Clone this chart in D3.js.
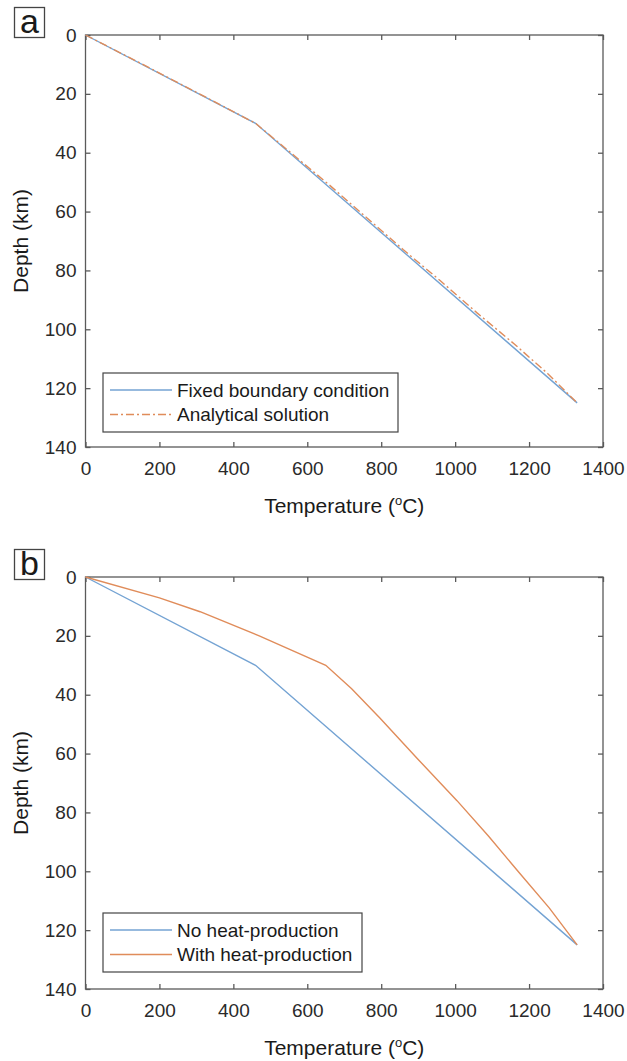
<!DOCTYPE html>
<html>
<head>
    <title>Geotherms</title>
    <script src="https://cdn.jsdelivr.net/npm/d3@7"></script>
    <style>
        body { margin: 0; background: #fff; }
        text { font-family: "Liberation Sans", Arial, sans-serif; }
    </style>
</head>
<body>
    <script>
// tick values
const tempTicks = [0, 200, 400, 600, 800, 1000, 1200, 1400];
const depthTicks = [0, 20, 40, 60, 80, 100, 120, 140];

// panel a: temperature (C) and depth (km)
const aFixedT = [0, 460, 1330];
const aFixedZ = [0, 30, 125];
const aAnalyticT = [0, 155, 308, 460, 560, 660, 760, 860, 960, 1060, 1160, 1250, 1330];
const aAnalyticZ = [0, 10, 20, 30, 40.5, 51, 62, 73, 83.5, 94.5, 105, 115, 125];

// panel b
const bNoHeatT = [0, 460, 1330];
const bNoHeatZ = [0, 30, 125];
const bHeatT = [0, 200, 310, 470, 560, 650, 720, 797, 900, 1005, 1090, 1170, 1255, 1330];
const bHeatZ = [0, 7.1, 11.8, 20, 25, 30, 38, 48, 62, 76, 88, 100, 112.5, 125];

const blue = "#74a3d3";
const orange = "#e08c5a";
const axisColor = "#5a5a5a";

const W = 627, H = 1061;
const svg = d3.select("body").append("svg")
    .attr("width", W).attr("height", H)
    .style("background", "#fff");

function zip(ts, zs) { return ts.map((t, i) => [t, zs[i]]); }

function panel(top, label, series, legendTop, legendRight) {
    const left = 85.5, right = 603, bottom = top + 412;
    const x = d3.scaleLinear().domain([0, 1400]).range([left, right]);
    const y = d3.scaleLinear().domain([0, 140]).range([top, bottom]);
    const g = svg.append("g");

    // panel letter
    g.append("rect").attr("x", 14.5).attr("y", top - 27.5)
        .attr("width", 30).attr("height", 30)
        .attr("fill", "none").attr("stroke", "#444").attr("stroke-width", 1.3);
    g.append("text").attr("x", 29.5).attr("y", top - 2)
        .attr("text-anchor", "middle").attr("font-size", 34).attr("fill", "#1a1a1a")
        .text(label);

    // axes with inward ticks, all four sides
    const fmt = d3.format("d");
    const bx = g.append("g").attr("transform", `translate(0,${bottom})`)
        .call(d3.axisBottom(x).tickValues(tempTicks).tickFormat(fmt).tickSizeInner(-5).tickSizeOuter(0).tickPadding(15));
    const tx = g.append("g").attr("transform", `translate(0,${top})`)
        .call(d3.axisTop(x).tickValues(tempTicks).tickSizeInner(-5).tickSizeOuter(0).tickFormat(""));
    const ly = g.append("g").attr("transform", `translate(${left},0)`)
        .call(d3.axisLeft(y).tickValues(depthTicks).tickFormat(fmt).tickSizeInner(-5).tickSizeOuter(0).tickPadding(9));
    const ry = g.append("g").attr("transform", `translate(${right},0)`)
        .call(d3.axisRight(y).tickValues(depthTicks).tickSizeInner(-5).tickSizeOuter(0).tickFormat(""));
    [bx, tx, ly, ry].forEach(a => {
        a.select(".domain").remove();
        a.selectAll("line").attr("stroke", axisColor).attr("stroke-width", 1.3);
        a.selectAll("text").attr("font-size", 19).attr("fill", "#2a2a2a")
            .attr("font-family", "Liberation Sans, Arial, sans-serif");
    });
    g.append("rect").attr("x", left).attr("y", top)
        .attr("width", right - left).attr("height", bottom - top)
        .attr("fill", "none").attr("stroke", axisColor).attr("stroke-width", 1.3);

    // axis titles
    const xt = g.append("text").attr("x", (left + right) / 2).attr("y", bottom + 66)
        .attr("text-anchor", "middle").attr("font-size", 21).attr("fill", "#1a1a1a");
    xt.append("tspan").text("Temperature (");
    xt.append("tspan").attr("font-size", 13).attr("dy", -8).text("o");
    xt.append("tspan").attr("dy", 8).text("C)");
    g.append("text")
        .attr("transform", `translate(28,${(top + bottom) / 2}) rotate(-90)`)
        .attr("text-anchor", "middle").attr("font-size", 21).attr("fill", "#1a1a1a")
        .text("Depth (km)");

    // curves
    const line = d3.line().x(d => x(d[0])).y(d => y(d[1]));
    series.forEach(s => {
        g.append("path").datum(s.data)
            .attr("d", line)
            .attr("fill", "none").attr("stroke", s.color).attr("stroke-width", 1.4)
            .attr("stroke-dasharray", s.dash || null);
    });

    // legend
    const lx = 103, lw = legendRight - lx;
    const lg = g.append("g");
    lg.append("rect").attr("x", lx).attr("y", legendTop).attr("width", lw).attr("height", 59)
        .attr("fill", "#fff").attr("stroke", "#444").attr("stroke-width", 1.2);
    series.forEach((s, i) => {
        const yy = legendTop + 17 + i * 24.5;
        lg.append("line").attr("x1", lx + 7).attr("x2", lx + 69)
            .attr("y1", yy).attr("y2", yy)
            .attr("stroke", s.color).attr("stroke-width", 1.4)
            .attr("stroke-dasharray", s.dash || null);
        lg.append("text").attr("x", lx + 74).attr("y", yy + 6.5)
            .attr("font-size", 19).attr("fill", "#1a1a1a").text(s.name);
    });
}

panel(35, "a", [
    { name: "Fixed boundary condition", data: zip(aFixedT, aFixedZ), color: blue },
    { name: "Analytical solution", data: zip(aAnalyticT, aAnalyticZ), color: orange, dash: "8,3,2,3" }
], 373, 398);

panel(577, "b", [
    { name: "No heat-production", data: zip(bNoHeatT, bNoHeatZ), color: blue },
    { name: "With heat-production", data: zip(bHeatT, bHeatZ), color: orange }
], 913, 362);
    </script>
</body>
</html>
